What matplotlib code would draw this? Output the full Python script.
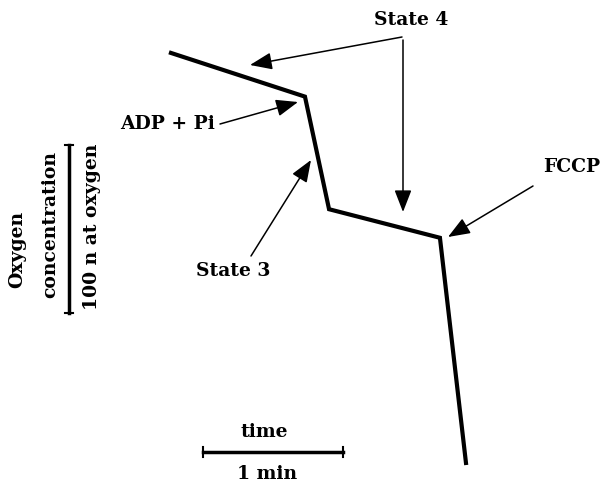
import matplotlib.pyplot as plt

# oxygen electrode trace (time in min, O2 in nmol O)
time_min = [0.0, 0.957, 1.129, 1.921, 2.107]
oxygen_nmol = [250, 224, 157, 140, 6]

# scale bars
time_bar = [0.229, 1.229]        # 1 min
oxygen_bar = [95, 195]           # 100 n at oxygen

W, H = 606, 488
FS = 13.5


def px(x, y):
    # image pixel (top-left origin) -> figure fraction
    return (x / W, (H - y) / H)


plt.rcParams['font.family'] = ['DejaVu Serif']

fig = plt.figure(figsize=(W / 100, H / 100), dpi=100)
fig.patch.set_facecolor('white')
ax = fig.add_axes([0, 0, 1, 1])
ax.set_xlim(-1.221, 3.107)
ax.set_ylim(-8.9, 281.5)
ax.axis('off')

# main trace
ax.plot(time_min, oxygen_nmol, color='black', lw=3.0, solid_joinstyle='miter')

# time scale bar
bar_y = 250 - (452 - 53) / 1.68
ax.plot(time_bar, [bar_y, bar_y], color='black', lw=2.5)
for t in time_bar:
    ax.plot([t, t], [bar_y - 3, bar_y + 3], color='black', lw=1.5)
fig.text(*px(264, 432), 'time', ha='center', va='center', fontsize=FS, weight='bold')
fig.text(*px(267, 474), '1 min', ha='center', va='center', fontsize=FS, weight='bold')

# oxygen scale bar
bar_x = (69 - 171) / 140
ax.plot([bar_x, bar_x], oxygen_bar, color='black', lw=2.5)
for o in oxygen_bar:
    ax.plot([bar_x - 0.03, bar_x + 0.03], [o, o], color='black', lw=1.5)
fig.text(*px(92, 227), '100 n at oxygen', rotation=90, ha='center', va='center', fontsize=FS, weight='bold')
fig.text(*px(50, 225), 'concentration', rotation=90, ha='center', va='center', fontsize=FS, weight='bold')
fig.text(*px(17, 249), 'Oxygen', rotation=90, ha='center', va='center', fontsize=FS, weight='bold')

arrow = dict(arrowstyle='-|>,head_length=0.9,head_width=0.35', color='black', lw=1.1,
             shrinkA=0, shrinkB=0, mutation_scale=15)

# labels with arrows
fig.text(*px(411, 20), 'State 4', ha='center', va='center', fontsize=FS, weight='bold')
ax.annotate('', xy=px(250, 65), xycoords='figure fraction',
            xytext=px(402, 37), textcoords='figure fraction', arrowprops=arrow)
ax.annotate('', xy=px(403, 212), xycoords='figure fraction',
            xytext=px(403, 40), textcoords='figure fraction', arrowprops=arrow)

fig.text(*px(168, 124), 'ADP + Pi', ha='center', va='center', fontsize=FS, weight='bold')
ax.annotate('', xy=px(298, 102), xycoords='figure fraction',
            xytext=px(220, 124), textcoords='figure fraction', arrowprops=arrow)

fig.text(*px(233, 271), 'State 3', ha='center', va='center', fontsize=FS, weight='bold')
ax.annotate('', xy=px(311, 160), xycoords='figure fraction',
            xytext=px(251, 256), textcoords='figure fraction', arrowprops=arrow)

fig.text(*px(572, 167), 'FCCP', ha='center', va='center', fontsize=FS, weight='bold')
ax.annotate('', xy=px(448, 237), xycoords='figure fraction',
            xytext=px(533, 186), textcoords='figure fraction', arrowprops=arrow)

fig.savefig('out.png', dpi=100, facecolor='white')
